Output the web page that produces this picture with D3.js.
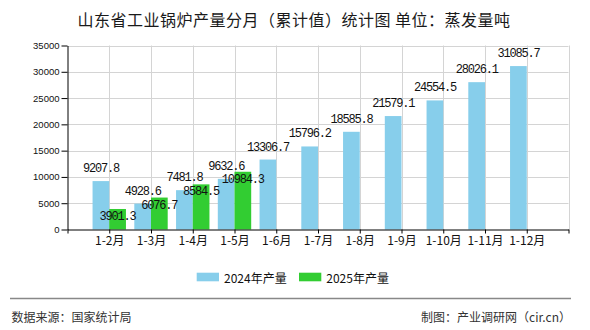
<!DOCTYPE html>
<html><head><meta charset="utf-8">
<script src="https://cdn.jsdelivr.net/npm/d3@7"></script>
<style>body{margin:0;background:#fff}svg{display:block}</style>
</head><body>
<script>
const categories = ["1-2月","1-3月","1-4月","1-5月","1-6月","1-7月","1-8月","1-9月","1-10月","1-11月","1-12月"];
const values2024 = [9207.8,4928.6,7481.8,9632.6,13306.7,15796.2,18585.8,21579.1,24554.5,28026.1,31085.7];
const values2025 = [3901.3,6076.7,8584.5,10984.3];
const yTicks = [0,5000,10000,15000,20000,25000,30000,35000];
const seriesNames = ["2024年产量","2025年产量"];
const colors = ["#87CEEB","#32CD32"];

(function(){
const W = 590, H = 330;
const svg = d3.select("body").append("svg").attr("width", W).attr("height", H);
const cjk = "'Noto Sans CJK SC','Noto Sans',sans-serif";

const pL = 67.5, pR = 568.5, pT = 45.5, pB = 229.5;
const x = d3.scalePoint().domain(["_s", ...categories, "_e"]).range([pL, pR]);
const y = d3.scaleLinear().domain([0, 35000]).range([pB, pT]);
const bw = 16.7;

// title
svg.append("text").attr("x", 294).attr("y", 18.5).attr("text-anchor","middle")
  .attr("dominant-baseline","central").style("font-family", cjk).style("font-size","16px")
  .style("letter-spacing","0.5px")
  .attr("fill","#1a1a1a").text("山东省工业锅炉产量分月（累计值）统计图 单位：蒸发量吨");

// grid
const g = svg.append("g");
g.selectAll("line.h").data(yTicks.filter(d=>d>0)).join("line")
  .attr("x1", pL).attr("x2", pR).attr("y1", d=>Math.round(y(d))+0.5).attr("y2", d=>Math.round(y(d))+0.5)
  .attr("stroke","#d4d4d4").attr("stroke-width",1);
g.selectAll("line.v").data(x.domain().slice(1)).join("line")
  .attr("y1", pT).attr("y2", pB).attr("x1", d=>Math.round(x(d))+0.5).attr("x2", d=>Math.round(x(d))+0.5)
  .attr("stroke","#d4d4d4").attr("stroke-width",1);

// bars
svg.append("g").selectAll("rect").data(values2024).join("rect")
  .attr("x", (d,i)=>x(categories[i]) - bw).attr("width", bw)
  .attr("y", d=>y(d)).attr("height", d=>pB - y(d)).attr("fill", colors[0]);
svg.append("g").selectAll("rect").data(values2025).join("rect")
  .attr("x", (d,i)=>x(categories[i])).attr("width", bw)
  .attr("y", d=>y(d)).attr("height", d=>pB - y(d)).attr("fill", colors[1]);

// axes
const yAxis = d3.axisLeft(y).tickValues(yTicks).tickSize(6).tickSizeOuter(0).tickFormat(d3.format("d"));
const ya = svg.append("g").attr("transform", `translate(${pL},0)`).call(yAxis);
ya.select(".domain").attr("stroke","#000");
ya.selectAll(".tick line").attr("stroke","#000");
ya.selectAll(".tick text").attr("x",-8).style("font-family","'Liberation Sans',Arial,sans-serif").style("font-size","9.5px").attr("fill","#111");

const xAxis = d3.axisBottom(x).tickSize(4).tickSizeOuter(0).tickFormat(d => d.startsWith("_") ? "" : d);
const xa = svg.append("g").attr("transform", `translate(0,${pB})`).call(xAxis);
xa.select(".domain").attr("stroke","#000");
xa.selectAll(".tick line").attr("stroke","#000");
xa.selectAll(".tick text").attr("y",7).style("font-family",cjk).style("font-size","12px").attr("fill","#111");

// value labels
const mono = "'Liberation Mono','DejaVu Sans Mono',monospace";
svg.append("g").selectAll("text").data(values2024).join("text")
  .attr("x", (d,i)=>x(categories[i]) - bw/2).attr("y", d=>y(d) - 12)
  .attr("text-anchor","middle").attr("dominant-baseline","central")
  .style("font-family",mono).style("font-size","12px").style("letter-spacing","-1.2px")
  .attr("fill","#111").text(d=>d.toFixed(1));
svg.append("g").selectAll("text").data(values2025).join("text")
  .attr("x", (d,i)=>x(categories[i]) + bw/2).attr("y", d=>y(d) + 8)
  .attr("text-anchor","middle").attr("dominant-baseline","central")
  .style("font-family",mono).style("font-size","12px").style("letter-spacing","-1.2px")
  .attr("fill","#111").text(d=>d.toFixed(1));

// legend
const legX = [196.7, 299];
seriesNames.forEach((n,i)=>{
  svg.append("rect").attr("x", legX[i]).attr("y", 272.7).attr("width", 22.3).attr("height", 8.6).attr("fill", colors[i]);
  svg.append("text").attr("x", legX[i] + 27.3).attr("y", 277).attr("dominant-baseline","central")
    .style("font-family",cjk).style("font-size","12px").attr("fill","#111").text(n);
});

// footer
svg.append("line").attr("x1",10).attr("x2",571).attr("y1",298.5).attr("y2",298.5).attr("stroke","#888").attr("stroke-width",1.3);
svg.append("text").attr("x",11.5).attr("y",316).attr("dominant-baseline","central")
  .style("font-family",cjk).style("font-size","12px").attr("fill","#333").text("数据来源：国家统计局");
svg.append("text").attr("x",571).attr("y",316).attr("text-anchor","end").attr("dominant-baseline","central")
  .style("font-family",cjk).style("font-size","12px").attr("fill","#333").text("制图：产业调研网（cir.cn）");
})();
</script>
</body></html>
